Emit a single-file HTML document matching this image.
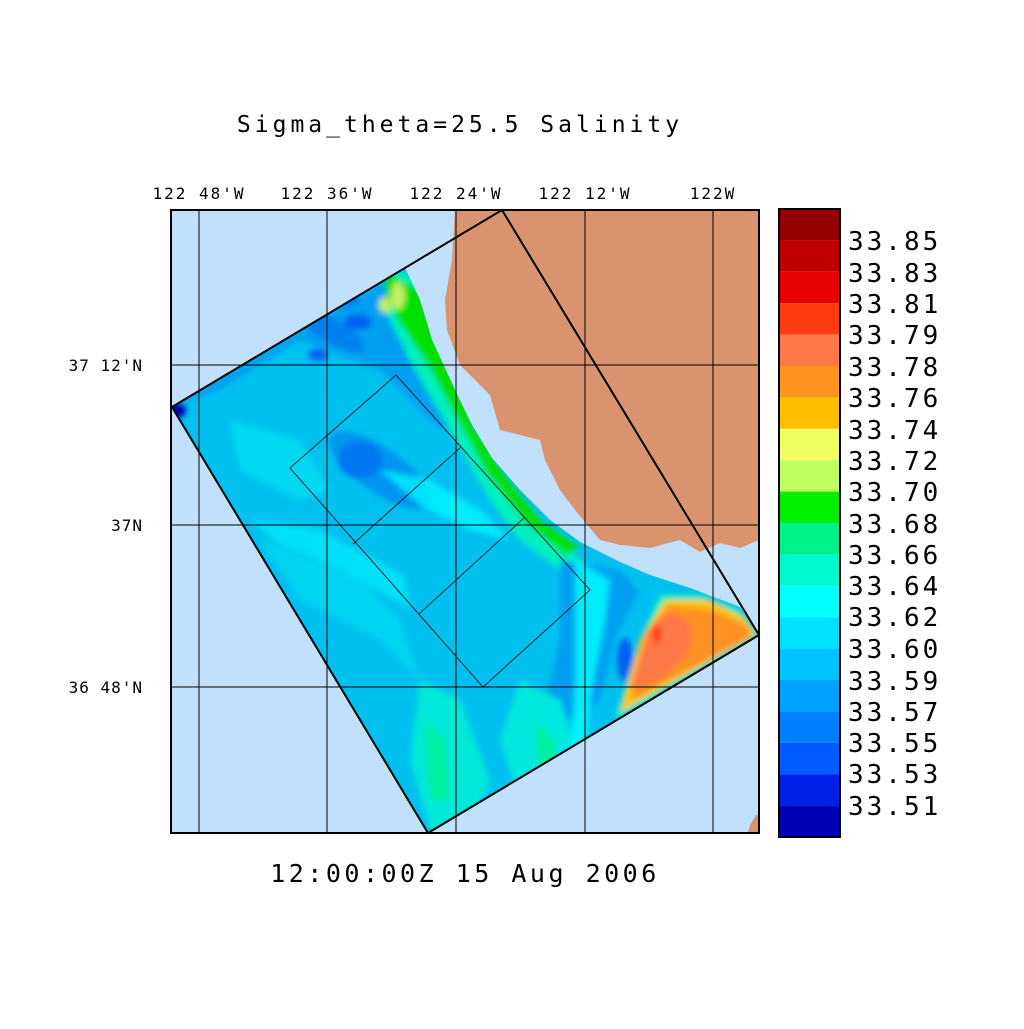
<!DOCTYPE html>
<html><head><style>
body{margin:0;background:#fff}
svg text{font-family:"DejaVu Sans Mono","Liberation Mono",monospace;fill:#000}
</style></head><body>
<svg width="1024" height="1024" viewBox="0 0 1024 1024" xmlns="http://www.w3.org/2000/svg">
<defs>
<filter id="b" x="-20%" y="-20%" width="140%" height="140%"><feGaussianBlur stdDeviation="3"/></filter>
<clipPath id="dc"><polygon points="172,407 405,268 420,300 432,340 455,390 472,425 492,458 520,490 550,520 580,542 620,562 650,575 690,588 740,607 759,635 428,833"/></clipPath>
</defs>
<text x="460" y="132" font-size="23" text-anchor="middle" letter-spacing="4">Sigma_theta=25.5 Salinity</text>
<g font-size="16" text-anchor="middle" letter-spacing="2">
<text x="199" y="199">122 48'W</text><text x="327" y="199">122 36'W</text><text x="456" y="199">122 24'W</text><text x="585" y="199">122 12'W</text><text x="713" y="199">122W</text>
</g>
<g font-size="16" text-anchor="end" letter-spacing="1">
<text x="143" y="371">37 12'N</text><text x="143" y="531">37N</text><text x="143" y="693">36 48'N</text>
</g>
<rect x="171" y="210" width="588" height="623" fill="#c0e0fb"/>
<g clip-path="url(#dc)">
<rect x="171" y="210" width="588" height="623" fill="#00c0f0"/>
<g filter="url(#b)">
<polygon points="172,407 405,268 440,330 470,420 440,430 380,370 300,340 220,390" fill="#00a0f0"/>
<ellipse cx="330" cy="330" rx="40" ry="12" fill="#0080f0" transform="rotate(30 330 330)"/>
<ellipse cx="358" cy="322" rx="14" ry="8" fill="#0060f0"/>
<ellipse cx="318" cy="355" rx="10" ry="6" fill="#0060f0"/>
<ellipse cx="345" cy="300" rx="15" ry="7" fill="#0080f0"/>
<ellipse cx="270" cy="380" rx="40" ry="10" fill="#00c0f0" transform="rotate(-10 270 380)"/>
<ellipse cx="360" cy="460" rx="22" ry="18" fill="#0060f0"/>
<ellipse cx="380" cy="470" rx="60" ry="22" fill="#0080f0" transform="rotate(35 380 470)" opacity=".7"/>
<polygon points="395,268 440,290 470,420 500,470 540,520 580,560 640,585 600,600 560,570 520,540 490,500 450,430 415,370 385,310" fill="#00f0c0"/>
<polygon points="385,272 440,300 470,420 500,470 540,520 580,548 565,555 525,522 486,472 458,420 425,360 398,320 385,290" fill="#00e000"/>
<ellipse cx="385" cy="305" rx="6" ry="8" fill="#c0f060"/>
<ellipse cx="398" cy="296" rx="7" ry="14" fill="#c0f060"/>
<ellipse cx="548" cy="495" rx="6" ry="12" fill="#f0f060"/>
<polygon points="250,520 320,530 430,590 470,620 470,640 430,620 340,570 280,545" fill="#00e0f8"/>
<polygon points="230,420 300,440 330,490 300,500 240,470" fill="#00d8f0"/>
<polygon points="380,470 430,480 480,510 510,540 470,530 420,505" fill="#00ffff" opacity=".7"/>
<polygon points="560,560 620,570 640,590 615,640 600,700 570,720 545,700 560,640" fill="#00a0f0"/>
<ellipse cx="625" cy="660" rx="8" ry="22" fill="#0060f0"/>
<polygon points="400,560 470,590 490,640 470,700 440,740" fill="#00c0f0"/>
<polygon points="260,540 360,580 400,620 420,680 380,640 300,600" fill="#00d8f0" opacity=".8"/>
<polygon points="420,680 460,700 490,780 470,830 430,830 410,760" fill="#00e8d8"/>
<polygon points="425,720 445,740 450,800 430,800" fill="#00f0a0"/>
<polygon points="520,680 560,700 580,760 560,800 520,800 500,740" fill="#00e8e0"/>
<polygon points="535,720 555,740 560,780 540,790" fill="#00f0a0"/>
<polygon points="575,560 610,580 605,620 590,700 585,760 570,760 575,680" fill="#00ffff" opacity=".8"/>
<polygon points="615,720 640,640 660,595 700,595 740,610 759,635" fill="#00f0c0"/>
<polygon points="620,712 640,640 665,600 710,600 745,618 756,635" fill="#ffc000"/>
<polygon points="632,700 648,630 670,606 710,610 745,625 752,636" fill="#ff9020"/>
<polygon points="630,690 648,630 668,612 690,622 690,650 660,680" fill="#ff7848"/>
<ellipse cx="657" cy="634" rx="4" ry="10" fill="#ff4010"/>
<ellipse cx="178" cy="410" rx="8" ry="8" fill="#0000b0"/>
</g>
</g>
<polygon points="455,210 452,260 445,300 447,330 460,365 475,380 490,395 500,430 520,435 540,440 545,460 560,490 575,510 600,540 620,545 650,548 680,540 700,552 720,543 740,548 759,540 759,210" fill="#d9946f"/>
<polygon points="750,825 756,815 759,815 759,833 748,833" fill="#d9946f"/>
<g stroke="#000" stroke-width="1" fill="none">
<line x1="199" y1="210" x2="199" y2="833"/><line x1="327" y1="210" x2="327" y2="833"/><line x1="456" y1="210" x2="456" y2="833"/><line x1="585" y1="210" x2="585" y2="833"/><line x1="713" y1="210" x2="713" y2="833"/>
<line x1="171" y1="365" x2="759" y2="365"/><line x1="171" y1="525" x2="759" y2="525"/><line x1="171" y1="687" x2="759" y2="687"/>
<polygon points="396,375 590,590 483,687 290,468" stroke-width="0.8"/>
<line x1="461" y1="447" x2="353" y2="544" stroke-width="0.8"/>
<line x1="525" y1="517" x2="419" y2="614" stroke-width="0.8"/>
<polygon points="502,210 759,635 428,833 172,407" stroke-width="2"/>
<rect x="171" y="210" width="588" height="623" stroke-width="2"/>
</g>
<g>
<rect x="779" y="209" width="61" height="31.4" fill="#960000"/>
<rect x="779" y="240.4" width="61" height="31.4" fill="#c00000"/>
<rect x="779" y="271.8" width="61" height="31.4" fill="#e60000"/>
<rect x="779" y="303.2" width="61" height="31.4" fill="#ff3c10"/>
<rect x="779" y="334.6" width="61" height="31.4" fill="#ff7848"/>
<rect x="779" y="366" width="61" height="31.4" fill="#ff9420"/>
<rect x="779" y="397.4" width="61" height="31.4" fill="#ffbe00"/>
<rect x="779" y="428.8" width="61" height="31.4" fill="#f0ff60"/>
<rect x="779" y="460.2" width="61" height="31.4" fill="#c0ff60"/>
<rect x="779" y="491.6" width="61" height="31.4" fill="#00f000"/>
<rect x="779" y="523" width="61" height="31.4" fill="#00f08c"/>
<rect x="779" y="554.4" width="61" height="31.4" fill="#00f8d0"/>
<rect x="779" y="585.8" width="61" height="31.4" fill="#00ffff"/>
<rect x="779" y="617.2" width="61" height="31.4" fill="#00e0ff"/>
<rect x="779" y="648.6" width="61" height="31.4" fill="#00c4ff"/>
<rect x="779" y="680" width="61" height="31.4" fill="#00a2ff"/>
<rect x="779" y="711.4" width="61" height="31.4" fill="#0080ff"/>
<rect x="779" y="742.8" width="61" height="31.4" fill="#005cff"/>
<rect x="779" y="774.2" width="61" height="31.4" fill="#0020e8"/>
<rect x="779" y="805.6" width="61" height="31.4" fill="#0000b8"/>
<rect x="779" y="209" width="61" height="628" fill="none" stroke="#000" stroke-width="2"/>
</g>
<g font-size="26" letter-spacing="3">
<text x="848" y="250">33.85</text><text x="848" y="282">33.83</text><text x="848" y="313">33.81</text><text x="848" y="344">33.79</text><text x="848" y="376">33.78</text><text x="848" y="407">33.76</text><text x="848" y="439">33.74</text><text x="848" y="470">33.72</text><text x="848" y="501">33.70</text><text x="848" y="533">33.68</text><text x="848" y="564">33.66</text><text x="848" y="595">33.64</text><text x="848" y="626">33.62</text><text x="848" y="658">33.60</text><text x="848" y="690">33.59</text><text x="848" y="721">33.57</text><text x="848" y="752">33.55</text><text x="848" y="783">33.53</text><text x="848" y="815">33.51</text>
</g>
<text x="465" y="882" font-size="25" text-anchor="middle" letter-spacing="3.5">12:00:00Z  15 Aug 2006</text>
</svg>
</body></html>
